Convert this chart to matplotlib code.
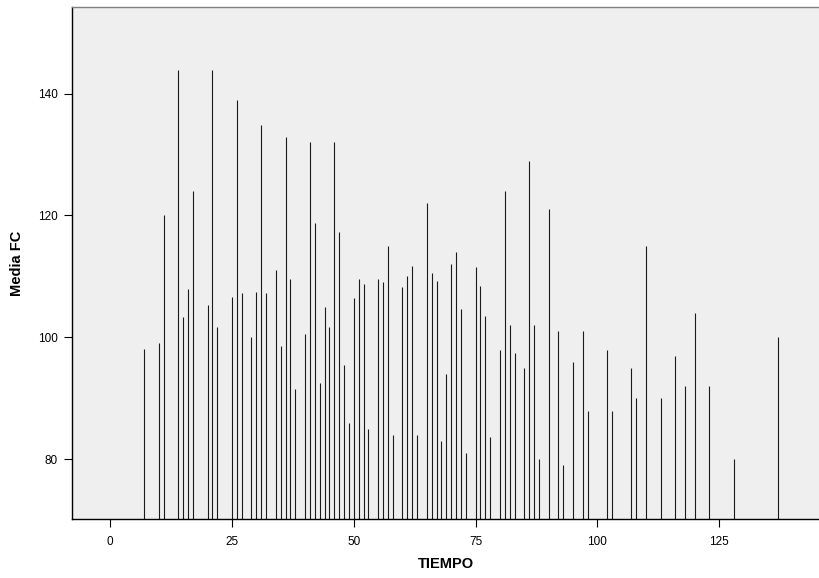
import matplotlib
matplotlib.use("Agg")
import matplotlib.pyplot as plt

plt.rcParams['font.family'] = ['Liberation Sans', 'DejaVu Sans']

tiempo = [7, 10, 11, 14, 15, 16, 17, 20, 21, 22,
          25, 26, 27, 29, 30, 31, 32, 34, 35, 36, 37, 38,
          40, 41, 42, 43, 44, 45, 46, 47, 48, 49,
          50, 51, 52, 53, 55, 56, 57, 58, 60, 61, 62, 63,
          65, 66, 67, 68, 69, 70, 71, 72, 73,
          75, 76, 77, 78, 80, 81, 82, 83, 85, 86, 87, 88,
          90, 92, 93, 95, 97, 98, 102, 103, 107, 108,
          110, 113, 116, 118, 120, 123, 128, 137]
media_fc = [98.1, 99.0, 120.0, 143.9, 103.4, 108.0, 124.0, 105.3, 143.9, 101.7,
            106.7, 138.9, 107.3, 100.0, 107.4, 134.9, 107.3, 111.0, 98.6, 132.9, 109.5, 91.5,
            100.5, 132.0, 118.7, 92.5, 105.0, 101.7, 132.0, 117.3, 95.5, 86.0,
            106.5, 109.5, 108.7, 85.0, 109.5, 109.1, 115.0, 84.0, 108.3, 110.0, 111.7, 84.0,
            122.0, 110.5, 109.3, 83.0, 94.0, 112.0, 114.0, 104.7, 81.0,
            111.5, 108.4, 103.5, 83.7, 98.0, 124.0, 102.0, 97.5, 95.0, 129.0, 102.0, 80.0,
            121.0, 101.0, 79.0, 96.0, 101.0, 88.0, 98.0, 88.0, 95.0, 90.0,
            115.0, 90.0, 97.0, 92.0, 104.0, 92.0, 80.0, 100.0]

x_ticks = [0, 25, 50, 75, 100, 125]
y_ticks = [80, 100, 120, 140]

fig = plt.figure(figsize=(8.19, 5.78), dpi=100)
ax = fig.add_axes([72/819, 1 - 519/578, 1 - 72/819, (519 - 7)/578])
ax.set_facecolor('#efefef')

ymin, ymax = 70.2, 154.2
ax.vlines(tiempo, ymin, media_fc, colors='#1a1a1a', linewidth=0.8)

ax.set_xlim(-7.84, 145.5)
ax.set_ylim(ymin, ymax)
ax.set_xticks(x_ticks)
ax.set_yticks(y_ticks)
ax.tick_params(axis='both', direction='out', length=6, width=0.8, color='black',
               labelsize=8.5)
ax.tick_params(axis='x', pad=6)
ax.tick_params(axis='y', pad=4)

for s in ['left', 'bottom']:
    ax.spines[s].set_color('black')
    ax.spines[s].set_linewidth(1.0)
ax.spines['top'].set_color('#808080')
ax.spines['top'].set_linewidth(1.0)
ax.spines['right'].set_visible(False)

ax.set_xlabel('TIEMPO', fontsize=10.5, fontweight='bold', labelpad=7)
ax.set_ylabel('Media FC', fontsize=10.5, fontweight='bold', labelpad=10)

fig.savefig('out.png', dpi=100)
